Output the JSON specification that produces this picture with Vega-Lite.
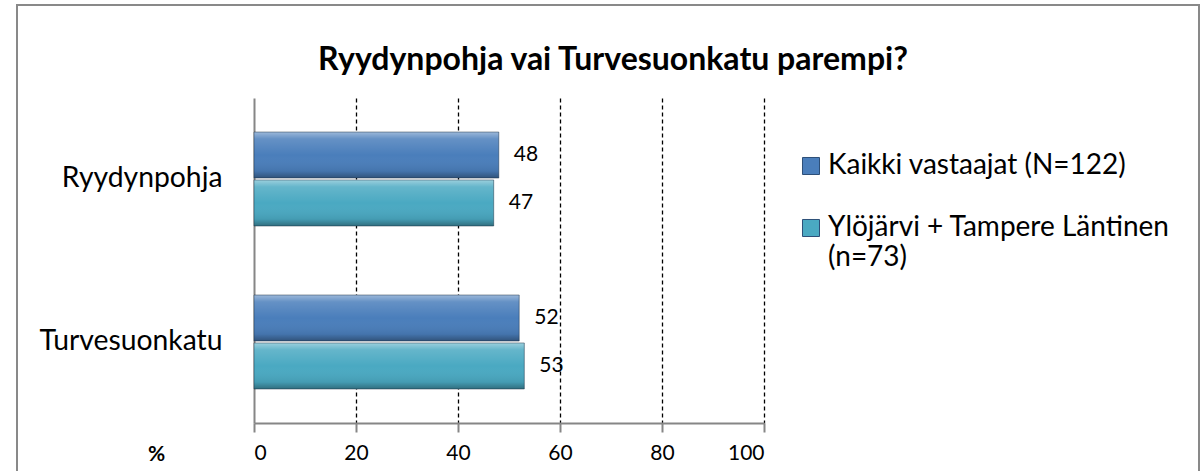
{
  "$schema": "https://vega.github.io/schema/vega-lite/v6.json",
  "width": 1182,
  "height": 467,
  "autosize": "none",
  "padding": {"left": 17, "top": 5, "right": 2, "bottom": 0},
  "background": "white",
  "config": {
    "view": {"stroke": "#898989", "strokeWidth": 2},
    "font": "Lato",
    "text": {"font": "Lato"}
  },
  "title": {
    "text": "Ryydynpohja vai Turvesuonkatu parempi?",
    "font": "Lato",
    "fontSize": 32,
    "fontWeight": "bold",
    "color": "#000000",
    "anchor": "middle",
    "frame": "group",
    "offset": -72,
    "dx": 5
  },
  "data": {
    "values": [
      {"kohde": "Ryydynpohja", "ryhma": "Kaikki vastaajat (N=122)", "osuus": 48},
      {"kohde": "Ryydynpohja", "ryhma": "Ylöjärvi + Tampere Läntinen (n=73)", "osuus": 47},
      {"kohde": "Turvesuonkatu", "ryhma": "Kaikki vastaajat (N=122)", "osuus": 52},
      {"kohde": "Turvesuonkatu", "ryhma": "Ylöjärvi + Tampere Läntinen (n=73)", "osuus": 53}
    ]
  },
  "encoding": {
    "y": {
      "field": "kohde",
      "type": "nominal",
      "sort": ["Ryydynpohja", "Turvesuonkatu"],
      "title": null,
      "scale": {"range": [93, 418], "paddingInner": 0.4233, "paddingOuter": 0.2086},
      "axis": {
        "orient": "left",
        "offset": -237,
        "domainColor": "#868686",
        "domainWidth": 2,
        "ticks": false,
        "grid": false,
        "labelFont": "Lato",
        "labelFontSize": 28.3,
        "labelColor": "#000000",
        "labelPadding": 32,
        "labelLimit": 400
      }
    },
    "yOffset": {
      "field": "ryhma",
      "sort": ["Kaikki vastaajat (N=122)", "Ylöjärvi + Tampere Läntinen (n=73)"],
      "scale": {"paddingInner": 0.04}
    },
    "x": {
      "field": "osuus",
      "type": "quantitative",
      "scale": {"domain": [0, 100], "range": [237, 747], "nice": false, "zero": true}
    }
  },
  "resolve": {"axis": {"x": "independent"}},
  "layer": [
    {
      "mark": {"type": "bar"},
      "encoding": {
        "x": {
          "field": "osuus",
          "type": "quantitative",
          "axis": {
            "orient": "top",
            "values": [20, 40, 60, 80, 100],
            "grid": true,
            "gridColor": "#000000",
            "gridDash": [4, 3],
            "gridWidth": 1.3,
            "domain": false,
            "ticks": false,
            "labels": false,
            "title": null
          }
        },
        "color": {
          "field": "ryhma",
          "type": "nominal",
          "sort": ["Kaikki vastaajat (N=122)", "Ylöjärvi + Tampere Läntinen (n=73)"],
          "scale": {"range": ["#4A7EBB", "#4AA9C2"]},
          "legend": {
            "title": null,
            "orient": "none",
            "legendX": 780,
            "legendY": 147,
            "symbolType": "square",
            "symbolSize": 290,
            "symbolStrokeColor": "#2d4f78",
            "symbolStrokeWidth": 1,
            "labelFont": "Lato",
            "labelFontSize": 28,
            "labelColor": "#000000",
            "labelOffset": 3,
            "labelLimit": 500,
            "labelLineHeight": 36,
            "rowPadding": 34,
            "labelExpr": "indexof(datum.label, 'Läntinen') >= 0 ? ['Ylöjärvi + Tampere Läntinen', '(n=73)'] : datum.label"
          }
        }
      }
    },
    {
      "mark": {
        "type": "bar",
        "fill": {
          "gradient": "linear",
          "x1": 0, "y1": 0, "x2": 0, "y2": 1,
          "stops": [
            {"offset": 0, "color": "rgba(255,255,255,0.45)"},
            {"offset": 0.15, "color": "rgba(255,255,255,0.15)"},
            {"offset": 0.5, "color": "rgba(255,255,255,0)"},
            {"offset": 0.85, "color": "rgba(0,0,0,0.08)"},
            {"offset": 1, "color": "rgba(0,0,0,0.35)"}
          ]
        },
        "stroke": "rgba(20,40,60,0.45)",
        "strokeWidth": 1
      },
      "encoding": {
        "x": {
          "field": "osuus",
          "type": "quantitative",
          "axis": {
            "orient": "bottom",
            "offset": -49,
            "values": [0, 20, 40, 60, 80, 100],
            "grid": false,
            "domainColor": "#868686",
            "domainWidth": 2,
            "tickColor": "#868686",
            "tickWidth": 2,
            "tickSize": 9,
            "labelFont": "Lato",
            "labelFontSize": 21,
            "labelColor": "#000000",
            "labelPadding": 10,
            "title": "%",
            "titleFont": "Lato",
            "titleFontSize": 21,
            "titleFontWeight": "bold",
            "titleColor": "#000000",
            "titleX": 139,
            "titleY": 31,
            "titleBaseline": "middle",
            "titleAlign": "center",
            "titleAnchor": "start"
          }
        }
      }
    },
    {
      "mark": {"type": "text", "align": "left", "baseline": "middle", "dx": 15, "fontSize": 21, "font": "Lato", "color": "#000000"},
      "encoding": {
        "text": {"field": "osuus", "type": "quantitative"}
      }
    }
  ]
}
